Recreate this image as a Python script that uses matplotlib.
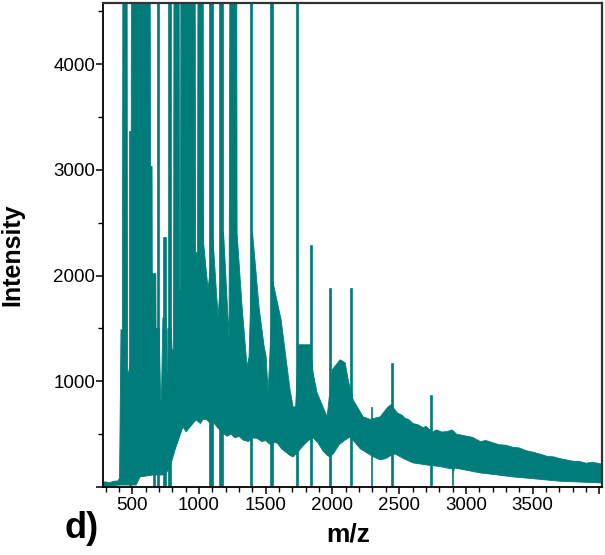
import numpy as np
import matplotlib
matplotlib.use("Agg")
import matplotlib.pyplot as plt
from matplotlib.ticker import MultipleLocator, FuncFormatter

plt.rcParams['font.family'] = ['Liberation Sans', 'DejaVu Sans']

# upper edge of the noisy trace (m/z, intensity); 6000 = off scale
hi_mz = [280, 295, 330, 360, 393, 404, 408, 415, 426, 430, 460, 464, 471, 490, 494,
         633, 636, 648, 651, 653, 676, 678, 684, 702, 712, 718, 729, 753, 757, 764,
         766, 793, 798, 809, 813, 850, 854,
         861, 865, 910, 914, 918, 970, 974, 989, 993, 1030, 1034, 1050, 1068, 1105,
         1125, 1143, 1184, 1205, 1225, 1233, 1282, 1285, 1320, 1360, 1375, 1401, 1450,
         1488, 1503, 1518, 1555, 1615, 1682, 1705, 1724, 1747, 1790, 1833, 1855, 1885,
         1960, 1998, 2058, 2095, 2120, 2155, 2230, 2283, 2358, 2410, 2440, 2485, 2520,
         2545, 2570, 2605, 2640, 2680, 2700, 2748, 2780, 2820, 2860, 2898, 2930, 2970,
         3010, 3050, 3108, 3150, 3200, 3250, 3300, 3355, 3400, 3450, 3500, 3560, 3610,
         3660, 3700, 3760, 3800, 3858, 3900, 3950, 4023]
hi_int = [35, 50, 40, 55, 57, 85, 569, 1488, 1488, 6000, 6000, 1081, 1081, 1200, 6000,
          6000, 3034, 3034, 1232, 2019, 2019, 1500, 1500, 1500, 825, 825, 1600, 1600, 1081, 1081,
          1500, 1500, 1299, 1299, 6000, 6000, 1868,
          1868, 6000, 6000, 2598, 6000, 6000, 2218, 2218, 6000, 6000, 2313, 2100, 1868, 2342,
          1950, 1612, 2408, 1900, 1394, 6000, 6000, 2408, 1750, 1138, 1232, 2408, 1700,
          1330, 1232, 891, 1934, 1583, 920, 758, 758, 1346, 1346, 1346, 1081, 891,
          664, 1109, 1204, 1176, 1000, 825, 664, 640, 664, 749, 780, 702, 680,
          650, 640, 600, 590, 560, 575, 520, 540, 520, 525, 540, 500, 490,
          480, 470, 430, 440, 420, 400, 395, 375, 370, 345, 330, 310, 290,
          285, 270, 255, 245, 240, 225, 235, 215]

# lower edge of the trace
lo_mz = [280, 408, 528, 558, 655, 745, 783, 820, 843, 880, 903, 933, 978, 1010, 1030,
         1053, 1080, 1105, 1140, 1180, 1210, 1240, 1270, 1300, 1330, 1370, 1400, 1435,
         1470, 1500, 1530, 1560, 1585, 1620, 1650, 1680, 1705, 1740, 1780, 1820, 1855,
         1890, 1930, 1960, 1982, 2010, 2050, 2090, 2132, 2170, 2210, 2260, 2300, 2358,
         2400, 2440, 2470, 2530, 2605, 2700, 2760, 2800, 2898, 2905, 2915, 3000, 3108,
         3200, 3355, 3450, 3610, 3700, 3858, 4023]
lo_int = [5, 19, 19, 95, 114, 114, 190, 351, 436, 569, 521, 569, 635, 600, 640,
          640, 610, 616, 560, 512, 480, 500, 465, 480, 445, 430, 465, 460,
          430, 440, 405, 420, 417, 360, 330, 300, 284, 330, 390, 440, 465,
          420, 340, 300, 284, 320, 400, 440, 474, 420, 360, 322, 290, 256,
          270, 300, 313, 270, 228, 210, 200, 195, 170, 130, 180, 160, 133,
          120, 95, 85, 66, 55, 47, 38]

# isolated peaks: m/z, apex intensity (6000 = off scale) and base width in m/z
peak_mz = [479, 666, 693, 741, 779, 1087, 1165, 1389, 1542, 1735, 1840, 1979, 2140,
           2290, 2444, 2737, 2898]
peak_int = [3365, 2019, 6000, 2370, 6000, 6000, 6000, 6000, 6000, 6000, 2294, 1885, 1885,
            758, 1176, 872, 520]
peak_w = [15, 15, 16, 22, 26, 30, 30, 19, 22, 16, 14, 14, 14, 8, 12, 12, 8]

teal = '#007d7a'

fig = plt.figure(figsize=(6.05, 5.55), dpi=100)
ax = fig.add_axes([0.1702, 0.1225, 0.8248, 0.8721])

# trace drawn as one closed polygon: upper edge left to right, lower edge back
xs = np.r_[hi_mz, lo_mz[::-1]]
ys = np.r_[hi_int, lo_int[::-1]]
ax.fill(xs, ys, color=teal, linewidth=0.6, edgecolor=teal)
ax.bar(peak_mz, peak_int, width=peak_w, color=teal, edgecolor=teal, linewidth=0.5)

ax.set_xlim(280, 4020)
ax.set_ylim(0, 4580)

ax.xaxis.set_major_locator(MultipleLocator(500))
ax.xaxis.set_minor_locator(MultipleLocator(100))
ax.yaxis.set_major_locator(MultipleLocator(1000))
ax.yaxis.set_minor_locator(MultipleLocator(500))
ax.xaxis.set_major_formatter(FuncFormatter(lambda v, p: '' if v < 500 or v > 3500 else '%d' % v))
ax.yaxis.set_major_formatter(FuncFormatter(lambda v, p: '' if v <= 0 else '%d' % v))
ax.tick_params(which='major', direction='out', length=5, width=1.1, labelsize=13.5, pad=2)
ax.tick_params(which='minor', direction='out', length=3.5, width=1.0)
ax.tick_params(axis='y', which='major', pad=0.5)

for s in ['left', 'bottom']:
    ax.spines[s].set_color('black')
    ax.spines[s].set_linewidth(1.3)
for s in ['top', 'right']:
    ax.spines[s].set_color('#333333')
    ax.spines[s].set_linewidth(1.6)

fig.text(348 / 605, 1 - 534 / 555, 'm/z', fontsize=19, fontweight='bold', ha='center', va='center')
fig.text(12 / 605, 1 - 255 / 555, 'Intensity', fontsize=18, fontweight='bold', rotation=90,
         ha='center', va='center')
fig.text(64 / 605, 1 - 529 / 555, 'd)', fontsize=26, fontweight='bold', ha='left', va='center')

fig.savefig('out.png', dpi=100)
